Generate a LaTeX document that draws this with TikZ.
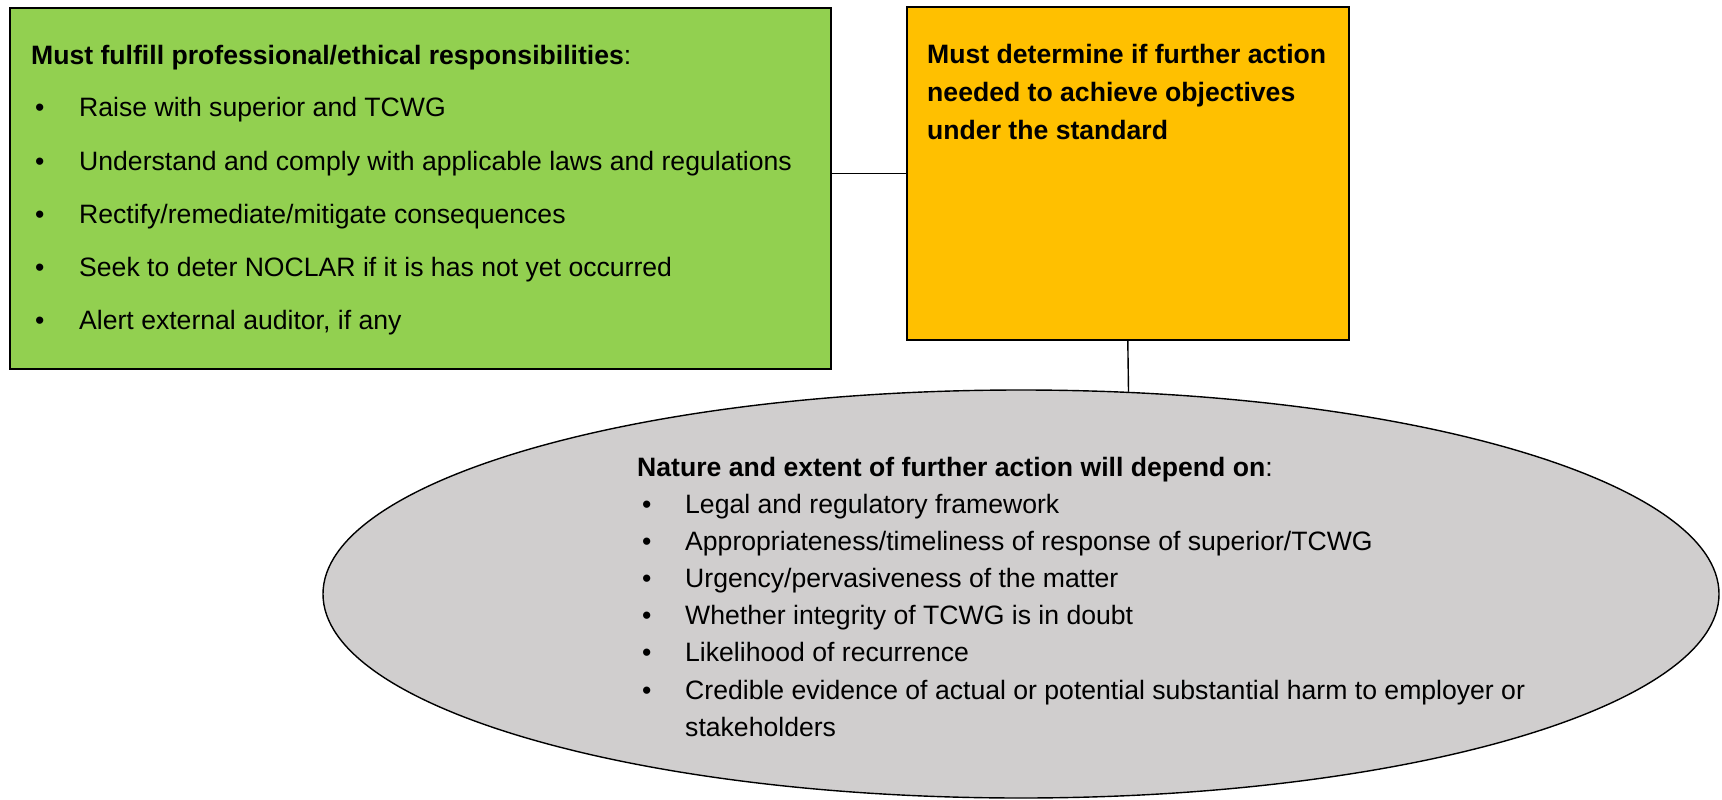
\documentclass[tikz,border=0pt]{standalone}
\usepackage{fontspec}
\setmainfont{Liberation Sans}
\usetikzlibrary{shapes.geometric}
\definecolor{boxgreen}{HTML}{92D050}
\definecolor{boxorange}{HTML}{FFC000}
\definecolor{ellgray}{HTML}{D0CECE}
\tikzset{
  panel/.style={draw=black, line width=1.6pt, inner sep=0pt, anchor=north west},
  txt/.style={anchor=base west, inner sep=0pt, font=\fontsize{26.6}{32}\selectfont},
  bul/.style={anchor=base west, inner sep=0pt, font=\fontsize{26.6}{32}\selectfont},
  link/.style={draw=black, line width=1.4pt}
}
\begin{document}
\begin{tikzpicture}[x=1pt,y=-1pt]
\useasboundingbox (0,0) rectangle (1722,800);
% panels
\node[panel, fill=boxgreen, minimum width=821pt, minimum height=361pt] (green) at (9,7) {};
\node[panel, fill=boxorange, minimum width=442pt, minimum height=333pt] (orange) at (906,6) {};
\node[draw=black, line width=1.4pt, fill=ellgray, ellipse, inner sep=0pt,
      minimum width=1396pt, minimum height=408pt] (ell) at (1021,594) {};
% connectors
\draw[link] (orange.west) -- (orange.west -| green.east);
\draw[link] (orange.south) -- (ell.62.4);
% green text
\node[txt] (gt) at (31,65) {\textbf{Must fulfill professional/ethical responsibilities}:};
\foreach \y/\t [count=\i] in {117/{Raise with superior and TCWG},
  170/{Understand and comply with applicable laws and regulations},
  223/{Rectify/remediate/mitigate consequences},
  276/{Seek to deter NOCLAR if it is has not yet occurred},
  329/{Alert external auditor, if any}}{
  \node[bul] (gb\i) at (35,\y) {•};
  \node[txt] (gi\i) at (79,\y) {\t};
}
% orange text
\foreach \y/\t [count=\i] in {64/{Must determine if further action},
  102/{needed to achieve objectives},
  139/{under the standard}}{
  \node[txt] (ot\i) at (927,\y) {\textbf{\t}};
}
% ellipse text
\node[txt] (et) at (637,476) {\textbf{Nature and extent of further action will depend on}:};
\foreach \y/\t [count=\i] in {513/{Legal and regulatory framework},
  550/{Appropriateness/timeliness of response of superior/TCWG},
  587/{Urgency/pervasiveness of the matter},
  624/{Whether integrity of TCWG is in doubt},
  661/{Likelihood of recurrence},
  699/{Credible evidence of actual or potential substantial harm to employer or}}{
  \node[bul] (eb\i) at (642,\y) {•};
  \node[txt] (ei\i) at (685,\y) {\t};
}
\node[txt] (ei7) at (685,736) {stakeholders};
\end{tikzpicture}
\end{document}
